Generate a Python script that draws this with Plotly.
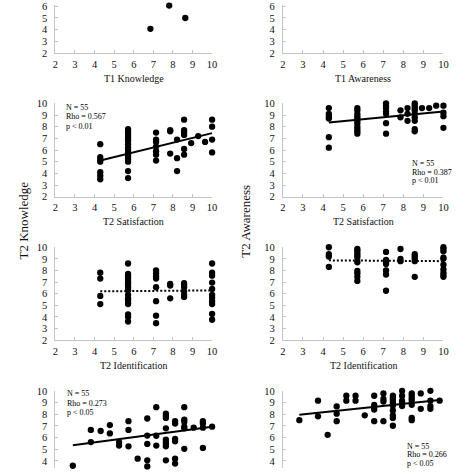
import plotly.graph_objects as go

FONT = "Liberation Serif, Times New Roman, serif"

# ---------------- data ----------------
# Row 1 (top, partially visible)
r1l_x = [6.85, 7.81, 8.63]
r1l_y = [4.08, 6.06, 5.0]
r1r_x = [9.48]
r1r_y = [6.2]

# Row 2: T2 Satisfaction vs T2 Knowledge (left) / T2 Awareness (right)
r2l_x = ([4.29] * 7 + [5.71] * 16 + [7.14] * 7 + [7.86] * 3 + [8.21] * 3 +
         [8.57] * 6 + [8.93] + [9.29] + [9.64] + [10] * 4)
r2l_y = ([6.5, 5.4, 5.2, 5.0, 4.1, 3.8, 3.5] +
         [7.8, 7.6, 7.4, 7.2, 7.0, 6.8, 6.5, 6.2, 6.0, 5.8, 5.6, 5.4, 5.2, 5.0, 4.2, 3.6] +
         [7.5, 6.9, 6.7, 6.3, 5.9, 5.6, 5.1] +
         [7.7, 7.6, 5.7] +
         [6.9, 5.3, 4.2] +
         [8.6, 7.7, 7.5, 7.3, 6.1, 5.6] +
         [6.6] + [7.2] + [6.7] +
         [8.6, 8.0, 6.9, 5.8])
r2r_x = ([4.29] * 6 + [5.71] * 11 + [7.14] * 7 + [7.86] * 2 + [8.21] * 3 +
         [8.57] * 9 + [8.93] + [9.29] + [9.64] + [10] * 4)
r2r_y = ([9.6, 9.1, 8.9, 8.7, 7.1, 6.2] +
         [9.6, 9.4, 9.1, 8.9, 8.7, 8.5, 8.3, 8.0, 7.8, 7.6, 7.4] +
         [10, 9.8, 9.6, 9.3, 9.1, 8.3, 7.4] +
         [9.4, 8.8] +
         [9.6, 9.1, 8.5] +
         [10, 9.8, 9.6, 9.4, 9.1, 8.8, 8.5, 7.8, 7.6] +
         [9.6] + [9.6] + [9.8] +
         [9.8, 9.2, 8.9, 7.9])

# Row 3: T2 Identification vs T2 Knowledge (left) / T2 Awareness (right)
r3l_x = ([4.29] * 4 + [5.71] * 17 + [7.14] * 8 + [7.86] * 3 + [8.57] * 6 + [10] * 11)
r3l_y = ([7.8, 7.3, 5.8, 5.1] +
         [8.6, 7.7, 7.5, 7.3, 7.1, 6.9, 6.7, 6.5, 6.3, 5.9, 5.6, 5.4, 5.2, 5.1, 4.2, 4.0, 3.6] +
         [8.0, 7.75, 7.5, 7.3, 6.55, 5.35, 4.1, 3.45] +
         [6.85, 6.7, 5.6] +
         [6.9, 6.75, 6.55, 6.2, 5.9, 5.7] +
         [8.6, 7.8, 7.55, 6.95, 6.4, 5.9, 5.65, 5.35, 5.1, 4.25, 3.75])
r3r_x = ([4.29] * 4 + [5.71] * 10 + [7.14] * 7 + [7.86] * 3 + [8.57] * 5 + [10] * 10)
r3r_y = ([10, 9.4, 9.2, 8.3] +
         [9.85, 9.7, 9.5, 9.3, 9.1, 8.7, 7.95, 7.75, 7.45, 7.1] +
         [9.6, 8.9, 8.7, 8.55, 8.0, 7.65, 6.25] +
         [9.85, 9.0, 8.8] +
         [9.4, 9.2, 9.0, 8.8, 7.45] +
         [10, 9.85, 9.65, 9.1, 9.0, 8.5, 8.1, 7.8, 7.6, 7.45])

# Row 4 (bottom, partially visible)
r4l_x = [2.89, 3.81, 3.81, 4.31, 4.78, 4.78, 5.25, 5.25, 5.73, 5.73, 5.73, 6.2,
         6.69, 6.69, 6.69, 6.69, 6.69, 7.15, 7.15, 7.15,
         7.64, 7.64, 7.64, 7.64, 7.64, 7.64, 7.64, 7.64, 7.64,
         8.11, 8.11, 8.11, 8.11, 8.11, 8.11,
         8.58, 8.58, 8.58, 8.58, 8.58, 8.58, 9.06, 9.53, 9.53, 9.53, 9.53, 10]
r4l_y = [3.58, 6.65, 5.61, 6.56, 7.07, 6.35, 5.61, 5.31, 7.4, 6.65, 5.25, 4.19,
         7.63, 6.17, 5.45, 4.05, 3.52, 8.6, 6.15, 5.31,
         8.04, 7.85, 7.68, 6.79, 5.81, 5.61, 5.45, 5.25, 4.05,
         7.4, 7.2, 5.89, 5.67, 4.19, 3.77,
         8.6, 7.54, 7.35, 6.93, 6.79, 5.03, 6.84, 7.4, 7.2, 6.84, 5.11, 6.93]
r4r_x = [2.82, 3.75, 3.75, 4.23, 4.68, 4.68, 4.68, 5.16, 5.16, 5.62, 5.62, 6.08,
         6.55, 6.55, 6.55, 6.55, 6.55, 7.01, 7.01, 7.01, 7.01,
         7.48, 7.48, 7.48, 7.48, 7.48, 7.48, 7.48, 7.48, 7.48,
         7.94, 7.94, 7.94, 7.94, 7.94,
         8.42, 8.42, 8.42, 8.42, 8.42, 8.42, 8.42,
         8.87, 8.87, 9.35, 9.35, 9.35, 9.35, 9.81]
r4r_y = [7.49, 9.16, 7.82, 6.23, 8.66, 8.04, 7.4, 9.58, 9.16, 9.58, 9.16, 7.9,
         9.58, 8.8, 8.6, 8.4, 7.4, 9.78, 9.3, 9.08, 7.4,
         9.58, 9.39, 9.22, 8.97, 8.74, 8.32, 7.9, 7.68, 7.01,
         10, 9.58, 9.16, 8.97, 8.69,
         9.78, 9.58, 9.36, 9.16, 8.8, 7.68, 7.49,
         9.78, 8.46, 10, 9.16, 8.69, 8.46, 9.16]

# Trend lines (end points)
trend_r2l = ([4.29, 10], [5.1, 7.45])
trend_r2r = ([4.29, 10], [8.36, 9.3])
trend_r3l = ([4.29, 10], [6.2, 6.28])
trend_r3r = ([4.29, 10], [8.87, 8.8])
trend_r4l = ([2.89, 10], [5.34, 6.93])
trend_r4r = ([2.82, 9.81], [7.96, 9.22])

# Texts
x_titles = ["T1 Knowledge", "T1 Awareness", "T2 Satisfaction", "T2 Satisfaction",
            "T2 Identification", "T2 Identification"]
y_titles = ["T2 Knowledge", "T2 Awareness"]
stats_lines = {
    3: ["N = 55", "Rho = 0.567", "p < 0.01"],
    4: ["N = 55", "Rho = 0.387", "p < 0.01"],
    7: ["N = 55", "Rho = 0.273", "p < 0.05"],
    8: ["N = 55", "Rho = 0.266", "p < 0.05"],
}

# ---------------- layout geometry (pixels) ----------------
W = H = 474
col_dom = [[53.3 / W, 212.7 / W], [284.7 / W, 448.0 / W]]
row_dom = [[1 - 49.3 / H, 1.0],
           [1 - 196.3 / H, 1 - 100.7 / H],
           [1 - 343.0 / H, 1 - 248.0 / H],
           [0.0, 1 - 395.0 / H]]
row_yrange = [[2, 2 + 49.3 / 12.0], [2, 10], [2, 10], [10 - 79 / 11.95, 10]]
title_y_px = [75, 222, 369]
# stats block: (left x px, first line centre y px, line step px)
stats_pos = {3: (62.5, 104.5, 10), 4: (414, 162, 9), 7: (63, 398, 9.6), 8: (409, 452, 8.5)}

panels = [
    (r1l_x, r1l_y, None, None), (r1r_x, r1r_y, None, None),
    (r2l_x, r2l_y, trend_r2l, "solid"), (r2r_x, r2r_y, trend_r2r, "solid"),
    (r3l_x, r3l_y, trend_r3l, "2px,2px"), (r3r_x, r3r_y, trend_r3r, "2px,2px"),
    (r4l_x, r4l_y, trend_r4l, "solid"), (r4r_x, r4r_y, trend_r4r, "solid"),
]

fig = go.Figure()
layout = {}
annotations = []
AX = "#c4c4c4"
TXT = "#111111"

for i, (px, py, trend, dash) in enumerate(panels):
    n = i + 1
    r, c = divmod(i, 2)
    xa = "x" if n == 1 else f"x{n}"
    ya = "y" if n == 1 else f"y{n}"
    fig.add_trace(go.Scatter(x=px, y=py, mode="markers", xaxis=xa, yaxis=ya,
                             marker=dict(color="black", size=6.3), cliponaxis=False,
                             showlegend=False, hoverinfo="skip"))
    if trend is not None:
        fig.add_trace(go.Scatter(x=trend[0], y=trend[1], mode="lines", xaxis=xa, yaxis=ya,
                                 line=dict(color="black", width=2, dash=dash),
                                 showlegend=False, hoverinfo="skip"))
    xkey = "xaxis" if n == 1 else f"xaxis{n}"
    ykey = "yaxis" if n == 1 else f"yaxis{n}"
    layout[xkey] = dict(domain=col_dom[c], range=[2, 10], anchor=ya, dtick=1, tick0=2,
                        showline=True, linecolor=AX, linewidth=1, showgrid=False,
                        zeroline=False, ticks="inside", ticklen=3, tickcolor=AX,
                        tickfont=dict(family=FONT, size=10.5, color=TXT),
                        ticklabelstandoff=1, visible=(r < 3), fixedrange=True)
    layout[ykey] = dict(domain=row_dom[r], range=row_yrange[r], anchor=xa, dtick=1, tick0=2,
                        showline=True, linecolor=AX, linewidth=1, showgrid=False,
                        zeroline=False, ticks="inside", ticklen=3, tickcolor=AX,
                        tickfont=dict(family=FONT, size=10.5, color=TXT),
                        ticklabelstandoff=5, fixedrange=True)
    if r < 3:
        annotations.append(dict(text=x_titles[i], xref="paper", yref="paper",
                                x=(col_dom[c][0] + col_dom[c][1]) / 2,
                                y=1 - title_y_px[r] / H, xanchor="center", yanchor="middle",
                                showarrow=False, font=dict(family=FONT, size=10, color=TXT)))
    if n in stats_lines:
        sx, sy, step = stats_pos[n]
        for j, line in enumerate(stats_lines[n]):
            annotations.append(dict(text=line, xref="paper", yref="paper",
                                    x=sx / W, y=1 - (sy + j * step) / H,
                                    xanchor="left", yanchor="middle", showarrow=False,
                                    font=dict(family=FONT, size=8, color="black")))

for k, t in enumerate(y_titles):
    annotations.append(dict(text=t, xref="paper", yref="paper",
                            x=(21 if k == 0 else 247) / W, y=1 - 221 / H,
                            xanchor="center", yanchor="middle", textangle=-90,
                            showarrow=False, font=dict(family=FONT, size=13, color=TXT)))

fig.update_layout(**layout)
fig.update_layout(width=W, height=H, margin=dict(l=0, r=0, t=0, b=0),
                  paper_bgcolor="white", plot_bgcolor="white",
                  annotations=annotations, showlegend=False)

fig.write_html("out.html", config={"displayModeBar": False},
               post_script="document.body.style.margin='0';"
                           "document.body.style.overflow='hidden';")
